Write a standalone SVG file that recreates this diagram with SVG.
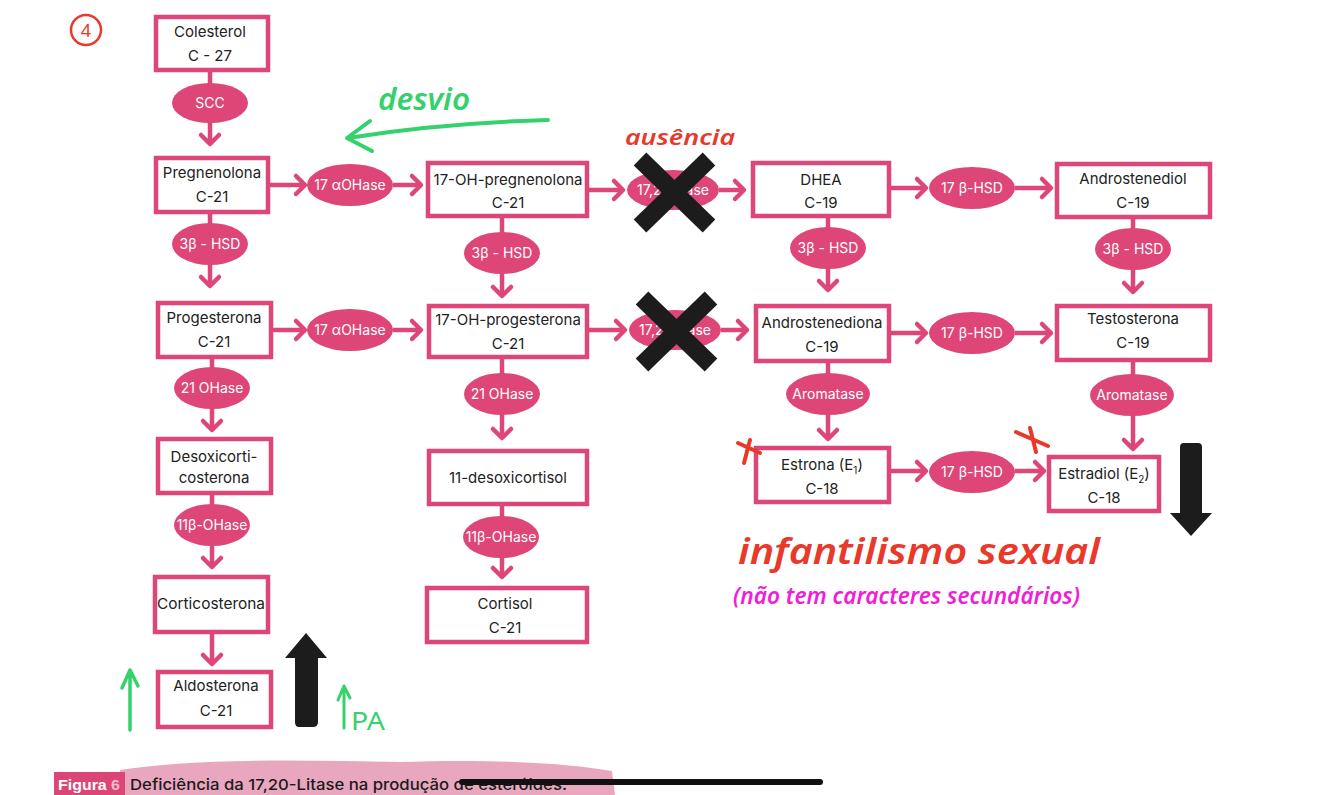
<svg xmlns="http://www.w3.org/2000/svg" width="1334" height="795" viewBox="0 0 1334 795">
<defs>
<style>
.box{fill:#fff;stroke:#de4677;stroke-width:4.5}
.enz{fill:#de4677}
.t{font-family:Inter,"Noto Sans",sans-serif;font-size:15px;fill:#222;text-anchor:middle}
.et{font-family:Inter,"Noto Sans",sans-serif;font-size:14px;fill:#fff;text-anchor:middle}
.conn{stroke:#de4677;stroke-width:4.5;fill:none;marker-end:url(#chev)}
.hand{font-family:"Noto Sans",sans-serif;font-style:italic;font-weight:600}
.blk{fill:#1c1c1c}
</style>
<marker id="chev" markerUnits="userSpaceOnUse" viewBox="-13 -13 17 26" markerWidth="17" markerHeight="26" refX="0" refY="0" orient="auto">
<path d="M-9,-9 L0,0 L-9,9" fill="none" stroke="#de4677" stroke-width="4.5" stroke-linecap="round" stroke-linejoin="round"/>
</marker>
</defs>
<rect width="1334" height="795" fill="#fff"/>

<g id="connectors">
<line class="conn" x1="210" y1="70" x2="210" y2="144"/>
<line class="conn" x1="210" y1="212" x2="210" y2="286"/>
<line class="conn" x1="212" y1="357" x2="212" y2="430"/>
<line class="conn" x1="212" y1="493" x2="212" y2="567"/>
<line class="conn" x1="212" y1="632" x2="212" y2="664"/>
<line class="conn" x1="502" y1="216" x2="502" y2="296"/>
<line class="conn" x1="502" y1="357" x2="502" y2="438"/>
<line class="conn" x1="502" y1="504" x2="502" y2="577"/>
<line class="conn" x1="828" y1="216" x2="828" y2="290"/>
<line class="conn" x1="828" y1="361" x2="828" y2="439"/>
<line class="conn" x1="1133" y1="217" x2="1133" y2="292"/>
<line class="conn" x1="1133" y1="360" x2="1133" y2="449"/>
<line class="conn" x1="268" y1="185" x2="305" y2="185"/>
<line class="conn" x1="393" y1="185" x2="421" y2="185"/>
<line class="conn" x1="271" y1="330" x2="305" y2="330"/>
<line class="conn" x1="393" y1="330" x2="421" y2="330"/>
<line class="conn" x1="587" y1="190" x2="623" y2="190"/>
<line class="conn" x1="719" y1="190" x2="744" y2="190"/>
<line class="conn" x1="587" y1="330" x2="625" y2="330"/>
<line class="conn" x1="721" y1="330" x2="747" y2="330"/>
<line class="conn" x1="889" y1="188" x2="926" y2="188"/>
<line class="conn" x1="1015" y1="188" x2="1051" y2="188"/>
<line class="conn" x1="889" y1="333" x2="926" y2="333"/>
<line class="conn" x1="1015" y1="333" x2="1051" y2="333"/>
<line class="conn" x1="889" y1="471" x2="926" y2="471"/>
<line class="conn" x1="1015" y1="471" x2="1044" y2="471"/>
</g>

<g id="n-colesterol"><rect class="box" x="156" y="17" width="112" height="53"/><text class="t" x="210" y="37">Colesterol</text><text class="t" x="210" y="61">C - 27</text></g>
<g id="n-pregnenolona"><rect class="box" x="156" y="158" width="112" height="54"/><text class="t" x="212" y="178">Pregnenolona</text><text class="t" x="212" y="202">C-21</text></g>
<g id="n-progesterona"><rect class="box" x="158" y="303" width="113" height="54"/><text class="t" x="214" y="323">Progesterona</text><text class="t" x="214" y="347">C-21</text></g>
<g id="n-desoxicorticosterona"><rect class="box" x="158" y="439" width="113" height="54"/><text class="t" x="214" y="462">Desoxicorti-</text><text class="t" x="214" y="483">costerona</text></g>
<g id="n-corticosterona"><rect class="box" x="155" y="577" width="113" height="55"/><text class="t" x="211" y="609" textLength="108" lengthAdjust="spacingAndGlyphs">Corticosterona</text></g>
<g id="n-aldosterona"><rect class="box" x="158" y="672" width="113" height="55"/><text class="t" x="216" y="691">Aldosterona</text><text class="t" x="216" y="716">C-21</text></g>

<g id="n-17oh-pregnenolona"><rect class="box" x="428" y="163" width="159" height="53"/><text class="t" x="508" y="185">17-OH-pregnenolona</text><text class="t" x="508" y="208">C-21</text></g>
<g id="n-17oh-progesterona"><rect class="box" x="429" y="306" width="158" height="51"/><text class="t" x="508" y="325">17-OH-progesterona</text><text class="t" x="508" y="349">C-21</text></g>
<g id="n-11-desoxicortisol"><rect class="box" x="429" y="451" width="158" height="53"/><text class="t" x="508" y="483">11-desoxicortisol</text></g>
<g id="n-cortisol"><rect class="box" x="427" y="588" width="160" height="54"/><text class="t" x="505" y="609">Cortisol</text><text class="t" x="505" y="633">C-21</text></g>

<g id="n-dhea"><rect class="box" x="753" y="163" width="136" height="53"/><text class="t" x="821" y="185">DHEA</text><text class="t" x="821" y="208">C-19</text></g>
<g id="n-androstenediona"><rect class="box" x="756" y="306" width="133" height="55"/><text class="t" x="822" y="328">Androstenediona</text><text class="t" x="822" y="352">C-19</text></g>
<g id="n-estrona"><rect class="box" x="756" y="448" width="133" height="54"/><text class="t" x="822" y="470">Estrona (E<tspan font-size="10" dy="4">1</tspan><tspan dy="-4">)</tspan></text><text class="t" x="822" y="494">C-18</text></g>

<g id="n-androstenediol"><rect class="box" x="1057" y="164" width="153" height="53"/><text class="t" x="1133" y="184">Androstenediol</text><text class="t" x="1133" y="208">C-19</text></g>
<g id="n-testosterona"><rect class="box" x="1057" y="306" width="153" height="54"/><text class="t" x="1133" y="324">Testosterona</text><text class="t" x="1133" y="348">C-19</text></g>
<g id="n-estradiol"><rect class="box" x="1049" y="457" width="110" height="54"/><text class="t" x="1104" y="479">Estradiol (E<tspan font-size="10" dy="4">2</tspan><tspan dy="-4">)</tspan></text><text class="t" x="1104" y="503">C-18</text></g>

<g id="e-scc"><ellipse class="enz" cx="210" cy="103" rx="38" ry="20"/><text class="et" x="210" y="108">SCC</text></g>
<g id="e-3bhsd-1"><ellipse class="enz" cx="210" cy="244" rx="38" ry="21"/><text class="et" x="210" y="249">3β - HSD</text></g>
<g id="e-21ohase-1"><ellipse class="enz" cx="212" cy="388" rx="38" ry="21"/><text class="et" x="212" y="393">21 OHase</text></g>
<g id="e-11bohase-1"><ellipse class="enz" cx="212" cy="525" rx="38" ry="21"/><text class="et" x="212" y="530">11β-OHase</text></g>
<g id="e-17aohase-1"><ellipse class="enz" cx="350" cy="185" rx="43" ry="21"/><text class="et" x="350" y="190">17 αOHase</text></g>
<g id="e-17aohase-2"><ellipse class="enz" cx="350" cy="330" rx="43" ry="21"/><text class="et" x="350" y="335">17 αOHase</text></g>
<g id="e-3bhsd-2"><ellipse class="enz" cx="502" cy="253" rx="38" ry="21"/><text class="et" x="502" y="258">3β - HSD</text></g>
<g id="e-21ohase-2"><ellipse class="enz" cx="502" cy="394" rx="38" ry="21"/><text class="et" x="502" y="399">21 OHase</text></g>
<g id="e-11bohase-2"><ellipse class="enz" cx="501" cy="537" rx="38" ry="21"/><text class="et" x="501" y="542">11β-OHase</text></g>
<g id="e-1720-1"><ellipse class="enz" cx="673" cy="190" rx="46" ry="20"/><text class="et" x="673" y="195">17,20 Liase</text></g>
<g id="e-1720-2"><ellipse class="enz" cx="675" cy="330" rx="46" ry="20"/><text class="et" x="675" y="335">17,20 Liase</text></g>
<g id="e-3bhsd-3"><ellipse class="enz" cx="828" cy="248" rx="38" ry="21"/><text class="et" x="828" y="253">3β - HSD</text></g>
<g id="e-aromatase-1"><ellipse class="enz" cx="828" cy="394" rx="42" ry="21"/><text class="et" x="828" y="399">Aromatase</text></g>
<g id="e-17bhsd-1"><ellipse class="enz" cx="972" cy="188" rx="43" ry="21"/><text class="et" x="972" y="193">17 β-HSD</text></g>
<g id="e-17bhsd-2"><ellipse class="enz" cx="972" cy="333" rx="43" ry="21"/><text class="et" x="972" y="338">17 β-HSD</text></g>
<g id="e-17bhsd-3"><ellipse class="enz" cx="972" cy="472" rx="43" ry="21"/><text class="et" x="972" y="477">17 β-HSD</text></g>
<g id="e-3bhsd-4"><ellipse class="enz" cx="1133" cy="249" rx="38" ry="21"/><text class="et" x="1133" y="254">3β - HSD</text></g>
<g id="e-aromatase-2"><ellipse class="enz" cx="1132" cy="395" rx="42" ry="21"/><text class="et" x="1132" y="400">Aromatase</text></g>

<g id="blocks" stroke="#1c1c1c" stroke-width="18">
<line x1="640" y1="159" x2="709" y2="226"/><line x1="709" y1="159" x2="640" y2="226"/>
<line x1="642" y1="298" x2="711" y2="365"/><line x1="711" y1="298" x2="642" y2="365"/>
</g>

<g id="big-arrows">
<path class="blk" d="M306,633 L327,658 L318,658 L318,722 Q318,727 313,727 L299,727 Q295,727 295,722 L295,658 L285,658 Z"/>
<path class="blk" d="M1180,447 Q1180,443 1184,443 L1198,443 Q1202,443 1202,447 L1202,513 L1212,513 L1191,536 L1170,513 L1180,513 Z"/>
</g>

<g id="annotations" fill="none" stroke-linecap="round" stroke-linejoin="round">
<circle cx="86" cy="30" r="15" stroke="#e8392a" stroke-width="2.5"/>
<text x="86" y="37" font-family="Noto Sans,sans-serif" font-size="18" fill="#e8392a" stroke="none" text-anchor="middle">4</text>
<path d="M548,120 C480,122 410,128 348,138" stroke="#35d16d" stroke-width="4"/>
<path d="M370,121 L347,138 L372,151" stroke="#35d16d" stroke-width="4"/>
<text class="hand" x="378" y="110" font-size="30" fill="#35d16d" stroke="none" textLength="92" lengthAdjust="spacingAndGlyphs">desvio</text>
<text class="hand" x="625" y="145" font-size="22" fill="#e8392a" stroke="none" textLength="110" lengthAdjust="spacingAndGlyphs">ausência</text>
<path d="M130,730 L130,670 M122,688 L130,670 L138,686" stroke="#35d16d" stroke-width="3.5"/>
<path d="M344,728 L344,686 M338,700 L344,686 L350,698" stroke="#35d16d" stroke-width="3"/>
<text x="351" y="730" font-family="Noto Sans,sans-serif" font-size="26" fill="#35d16d" stroke="none" textLength="34" lengthAdjust="spacingAndGlyphs">PA</text>
<path d="M738,443 L760,453 M750,440 L744,463" stroke="#e8392a" stroke-width="4"/>
<path d="M1016,432 L1048,446 M1030,428 L1036,452" stroke="#e8392a" stroke-width="4"/>
<text class="hand" x="738" y="564" font-size="36" fill="#e8392a" stroke="none" textLength="362" lengthAdjust="spacingAndGlyphs">infantilismo sexual</text>
<text class="hand" x="733" y="604" font-size="24" fill="#f01ed6" stroke="none" textLength="347" lengthAdjust="spacingAndGlyphs">(não tem caracteres secundários)</text>
</g>

<g id="caption">
<path d="M120,770 C200,758 300,760 400,762 C480,759 560,762 612,771 L615,795 L120,795 Z" fill="#e9a7bf"/>
<rect x="54" y="772" width="71" height="23" fill="#dc4677"/>
<text x="58" y="790" font-family="Liberation Sans,sans-serif" font-size="15" font-weight="bold" fill="#fff" textLength="62" lengthAdjust="spacingAndGlyphs">Figura <tspan fill="#f5b9cc">6</tspan></text>
<text x="130" y="790" font-family="Inter,sans-serif" font-size="15" font-weight="500" fill="#1a1a1a" textLength="437" lengthAdjust="spacingAndGlyphs">Deficiência da 17,20-Litase na produção de esteróides.</text>
<line x1="462" y1="782" x2="820" y2="782" stroke="#111" stroke-width="6" stroke-linecap="round"/>
</g>
</svg>
